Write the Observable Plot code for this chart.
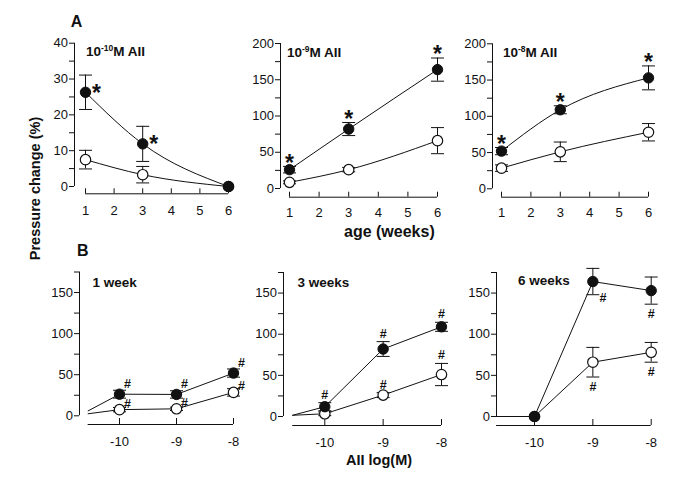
<!DOCTYPE html>
<html><head><meta charset="utf-8">
<script src="https://cdn.jsdelivr.net/npm/d3@7"></script>
<script src="https://cdn.jsdelivr.net/npm/@observablehq/plot@0.6"></script>
<style>
body{margin:0;background:#fff}
#chart{position:relative;width:685px;height:498px;background:#fff;overflow:hidden}
#chart svg{position:absolute;left:0;top:0}
</style>
</head><body><div id="chart"></div>
<script>
// ---------- data ----------
const weeks = [1, 3, 6];
const concentrations = [-10, -9, -8];
const concExponents = ["-10", "-9", "-8"];
const weekTitles = ["1 week", "3 weeks", "6 weeks"];

// filled circles
const filled10 = [26.3, 11.9, 0];   const filled10Err = [4.8, 4.9, 0];
const filled9  = [26, 82, 164];     const filled9Err  = [4.5, 9, 16];
const filled8  = [52, 109, 153];    const filled8Err  = [5, 5.5, 16.5];
// open circles
const open10 = [7.5, 3.3, 0];       const open10Err = [2.6, 2.3, 0];
const open9  = [8.5, 26, 66];       const open9Err  = [2, 3, 18];
const open8  = [28.5, 51, 78];      const open8Err  = [4.5, 13.5, 12];

// significance (* in A, per concentration over weeks; # in B, per week over concentrations)
const starA10 = [true, true, false];
const starA9  = [true, true, true];
const starA8  = [true, true, true];
const hashFilledW1 = [true, true, true],  hashOpenW1 = [true, true, true];
const hashFilledW3 = [true, true, true],  hashOpenW3 = [false, true, true];
const hashFilledW6 = [false, true, true], hashOpenW6 = [false, true, true];

// baseline (start of the B curves, before the lowest concentration)
const baseConc   = [-10.55, -10.55, -10.65];
const baseFilled = [6, 1.5, 0];
const baseOpen   = [2.5, 1.5, 0];

// ticks
const xTicksA = [1, 2, 3, 4, 5, 6];
const xTicksB = [-10, -9, -8];
const yMajorA1 = [0, 10, 20, 30, 40],  yMinorA1 = [5, 15, 25, 35];
const yMajorA  = [0, 50, 100, 150, 200], yMinorA = [25, 75, 125, 175];
const yMajorB  = [0, 50, 100, 150],    yMinorB = [25, 75, 125, 175];

// ---------- assembling ----------
const ink = "#111";
const FONT = "'Liberation Sans', Arial, Helvetica, sans-serif";
const filledM = [filled10, filled9, filled8], filledE = [filled10Err, filled9Err, filled8Err];
const openM = [open10, open9, open8], openE = [open10Err, open9Err, open8Err];
const starA = [starA10, starA9, starA8];
const hashF = [hashFilledW1, hashFilledW3, hashFilledW6];
const hashO = [hashOpenW1, hashOpenW3, hashOpenW6];

function seriesA(i, M, E, sig) {
  return weeks.map((w, j) => ({x: w, y: M[i][j], e: E[i][j], sig: sig ? sig[j] : false}));
}
function seriesB(j, M, E, sig) {
  return concentrations.map((c, i) => ({x: c, y: M[i][j], e: E[i][j], sig: sig[j][i]}));
}

const capSymbol = {draw(ctx, size) { const h = Math.sqrt(size / Math.PI); ctx.moveTo(-h, 0); ctx.lineTo(h, 0); }};

function annots(series, spec, overrides, txt, fontSize, weight) {
  return series.filter(d => d.sig).map(d => {
    const s = (overrides && overrides[d.x]) || spec;
    const y = s.ref === "hi" ? d.y + d.e : s.ref === "lo" ? d.y - d.e : d.y;
    return Plot.text([{x: d.x, y}], {x: "x", y: "y", text: () => txt, dx: s.dx, dy: s.dy,
      fontSize, fontWeight: weight, fill: ink, fontFamily: FONT});
  });
}

function makePanel(c) {
  const xAt = p => c.xr[0] + (p - c.xr[1]) * (c.xr[2] - c.xr[0]) / (c.xr[3] - c.xr[1]);
  const yAt = p => c.yr[0] + (p - c.yr[1]) * (c.yr[2] - c.yr[0]) / (c.yr[3] - c.yr[1]);
  const xMin = xAt(c.yAxisPx), xMax = c.xr[2];
  const yMin = yAt(c.xAxisPx), yTop = c.yr[2];
  const tickUp = yAt(c.xAxisPx - c.xTickLen) - yMin;
  const lf = c.base ? [{x: c.base.x, y: c.base.f}, ...c.filled] : c.filled;
  const lo = c.base ? [{x: c.base.x, y: c.base.o}, ...c.open] : c.open;
  const err = s => s.filter(d => d.e > 0);
  const errMarks = s => [
    Plot.ruleX(err(s), {x: "x", y1: d => d.y - d.e, y2: d => d.y + d.e, stroke: ink, strokeWidth: 1}),
    Plot.dot(err(s), {x: "x", y: d => d.y + d.e, symbol: capSymbol, r: 6.5, stroke: ink, fill: "none", strokeWidth: 1}),
    Plot.dot(err(s), {x: "x", y: d => d.y - d.e, symbol: capSymbol, r: 6.5, stroke: ink, fill: "none", strokeWidth: 1})
  ];
  return Plot.plot({
    width: 685, height: 498,
    marginLeft: c.yAxisPx, marginRight: 685 - c.xr[3], marginTop: c.yr[3], marginBottom: 498 - c.xAxisPx,
    x: {domain: [xMin, xMax], range: [c.yAxisPx, c.xr[3]], label: null},
    y: {domain: [yMin, yTop], range: [c.xAxisPx, c.yr[3]], label: null},
    style: {fontFamily: FONT, color: ink, background: "none", overflow: "visible"},
    marks: [
      Plot.ruleX([xMin], {y1: 0, y2: yTop, stroke: ink}),
      Plot.axisY({ticks: c.yMajor, tickSize: 5, tickPadding: 1.5, fontSize: 13, label: null}),
      Plot.axisY({ticks: c.yMinor, tickSize: 5, tickFormat: () => "", label: null}),
      Plot.ruleY([yMin], {x1: c.xLine[0], x2: c.xLine[1], stroke: ink}),
      Plot.ruleX(c.xTicks, {x: d => d, y1: yMin, y2: yMin + tickUp, stroke: ink}),
      Plot.axisX({ticks: c.xTicks, tickSize: 0, tickPadding: c.xPad, fontSize: 13, label: null, tickFormat: d => String(d)}),
      Plot.line(lf, {x: "x", y: "y", curve: c.curve, stroke: ink, strokeWidth: 1}),
      Plot.line(lo, {x: "x", y: "y", curve: c.curve, stroke: ink, strokeWidth: 1}),
      ...errMarks(c.open),
      ...errMarks(c.filled),
      Plot.dot(c.open, {x: "x", y: "y", r: 5.2, fill: "white", stroke: ink, strokeWidth: 1.2}),
      Plot.dot(c.filled, {x: "x", y: "y", r: 5.2, fill: ink, stroke: ink, strokeWidth: 1}),
      ...annots(c.filled, c.sigF, c.overF, c.sigText, c.sigSize, c.sigWeight),
      ...annots(c.open, c.sigO, null, c.sigText, c.sigSize, c.sigWeight)
    ]
  });
}

// layout of the six panels (pixel anchors)
const layoutA = [
  {xr: [1, 85, 6, 228],  yr: [0, 186, 40, 42.7],   yAxisPx: 74,  xAxisPx: 193.3, xPad: 12, yMajor: yMajorA1, yMinor: yMinorA1,
   sigF: {ref: "pt", dx: 11, dy: 1}},
  {xr: [1, 289, 6, 437], yr: [0, 188, 200, 43],    yAxisPx: 280, xAxisPx: 196.7, xPad: 10.5, yMajor: yMajorA, yMinor: yMinorA,
   sigF: {ref: "hi", dx: 0, dy: -3}},
  {xr: [1, 501, 6, 648], yr: [0, 188.3, 200, 43.3], yAxisPx: 492, xAxisPx: 196.7, xPad: 10.5, yMajor: yMajorA, yMinor: yMinorA,
   sigF: {ref: "hi", dx: 0, dy: -3}}
];
const layoutB = [
  {xr: [-10, 119, -8, 233],   yr: [0, 415.3, 175, 271.5], yAxisPx: 79,  xAxisPx: 424,
   sigF: {ref: "pt", dx: 8, dy: -10}, sigO: {ref: "pt", dx: 8, dy: -6}},
  {xr: [-10, 324.3, -8, 441], yr: [0, 416, 175, 272],     yAxisPx: 283, xAxisPx: 425,
   sigF: {ref: "hi", dx: 0, dy: -8}, sigO: {ref: "hi", dx: 0, dy: -8}},
  {xr: [-10, 534, -8, 650.7], yr: [0, 416, 175, 272],     yAxisPx: 496, xAxisPx: 425,
   sigF: {ref: "lo", dx: 0, dy: 10}, sigO: {ref: "lo", dx: 0, dy: 10}, overF: {"-9": {ref: "lo", dx: 10, dy: 3}}}
];

const chart = document.getElementById("chart");
layoutA.forEach((L, i) => {
  chart.appendChild(makePanel({...L, xTickLen: 5, xTicks: xTicksA, xLine: [1, 6], curve: "monotone-x",
    filled: seriesA(i, filledM, filledE, starA[i]), open: seriesA(i, openM, openE, null),
    sigO: {ref: "hi", dx: 0, dy: -3}, sigText: "*", sigSize: 23, sigWeight: "bold"}));
});
layoutB.forEach((L, j) => {
  chart.appendChild(makePanel({...L, xTickLen: 6, xPad: 12, xTicks: xTicksB, xLine: [baseConc[j], -8], curve: "linear",
    yMajor: yMajorB, yMinor: yMinorB,
    base: {x: baseConc[j], f: baseFilled[j], o: baseOpen[j]},
    filled: seriesB(j, filledM, filledE, hashF), open: seriesB(j, openM, openE, hashO),
    sigText: "#", sigSize: 12.5, sigWeight: "bold"}));
});

// ---------- text labels ----------
const svg = d3.select(chart).append("svg").attr("width", 685).attr("height", 498)
  .style("font-family", FONT).style("pointer-events", "none");
function label(txt, x, y, size, opts = {}) {
  const t = svg.append("text").attr("x", x).attr("y", y).attr("font-size", size)
    .attr("font-weight", opts.weight || "bold").attr("fill", ink)
    .attr("text-anchor", opts.anchor || "start");
  if (opts.rotate) t.attr("transform", `rotate(${opts.rotate},${x},${y})`);
  t.text(txt);
  return t;
}
function concTitle(exp, x, y) {
  const t = svg.append("text").attr("x", x).attr("y", y).attr("font-size", 13.5)
    .attr("font-weight", "bold").attr("fill", ink);
  t.append("tspan").text("10");
  t.append("tspan").attr("font-size", 8.5).attr("dy", -5).text(exp);
  t.append("tspan").attr("dy", 5).text("M AII");
}
label("A", 70.7, 26.5, 16);
label("B", 77, 255.5, 16);
const titleA = [[86, 56], [287, 56.5], [503, 56.5]];
concExponents.forEach((e, i) => concTitle(e, titleA[i][0], titleA[i][1]));
const titleB = [[92.5, 286.5], [297.5, 286.5], [518, 285]];
weekTitles.forEach((w, j) => label(w, titleB[j][0], titleB[j][1], 13.5));
label("age (weeks)", 344, 237, 16);
label("AII log(M)", 346, 465, 14.5);
label("Pressure change (%)", 40, 188.5, 14.5, {anchor: "middle", rotate: -90});
</script>
</body></html>
